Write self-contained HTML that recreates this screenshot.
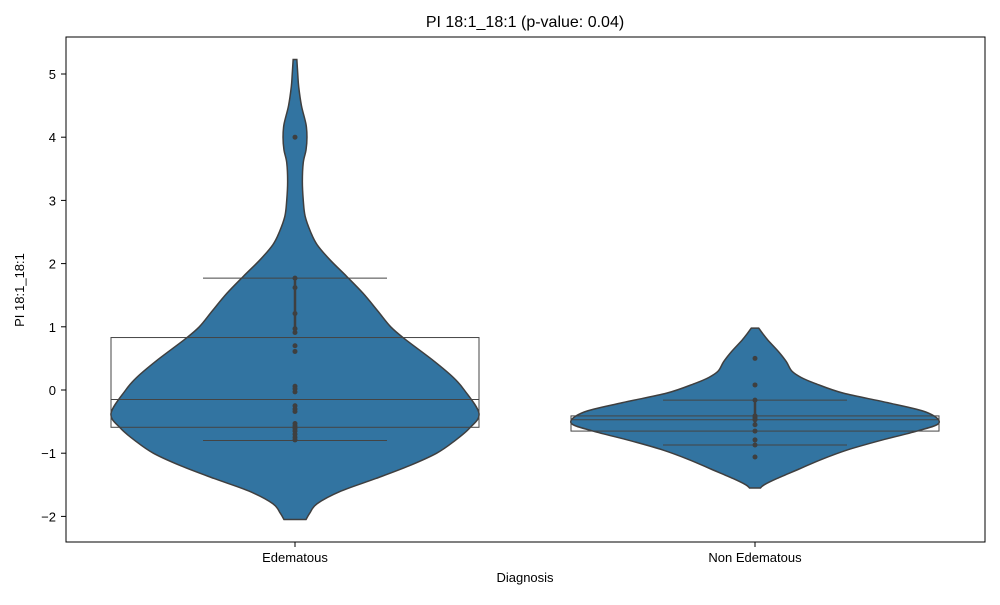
<!DOCTYPE html>
<html><head><meta charset="utf-8"><style>
body{margin:0;background:#fff;font-family:"Liberation Sans","DejaVu Sans",sans-serif}
svg text{font-family:"Liberation Sans","DejaVu Sans",sans-serif}
</style></head><body>
<svg id="c" width="1000" height="600">
<rect width="1000" height="600" fill="#fff"/>
<text x="525" y="27" text-anchor="middle" font-size="16">PI 18:1_18:1 (p-value: 0.04)</text>
<g id="plot"></g>
<rect x="66" y="37" width="919" height="505" fill="none" stroke="#000" stroke-width="1"/>
<text x="525" y="582" text-anchor="middle" font-size="13">Diagnosis</text>
<text transform="translate(24,290) rotate(-90)" text-anchor="middle" font-size="13">PI 18:1_18:1</text>
</svg>
<script>
const categories=["Edematous","Non Edematous"];
const yTicks=[-2,-1,0,1,2,3,4,5];
const pointsEd=[4.0,1.77,1.62,1.21,0.97,0.91,0.70,0.61,0.06,0.02,-0.03,-0.25,-0.30,-0.34,-0.53,-0.57,-0.61,-0.65,-0.70,-0.75,-0.79];
const pointsNon=[0.5,0.08,-0.16,-0.41,-0.44,-0.47,-0.55,-0.65,-0.79,-0.87,-1.06];
// violin outline: [value, relative density 0..1]
const densEd=[[5.23,0.01],[5.0,0.015],[4.8,0.02],[4.5,0.035],[4.2,0.06],[4.0,0.065],[3.8,0.06],[3.6,0.045],[3.3,0.04],[3.0,0.045],[2.75,0.055],[2.5,0.085],[2.3,0.12],[2.06,0.19],[1.8,0.28],[1.53,0.37],[1.25,0.45],[1.0,0.52],[0.8,0.6],[0.47,0.75],[0.2,0.86],[0,0.92],[-0.37,1.0],[-0.6,0.95],[-0.8,0.87],[-1.0,0.77],[-1.2,0.62],[-1.4,0.44],[-1.6,0.25],[-1.8,0.12],[-1.95,0.08],[-2.05,0.06]];
const densNon=[[0.98,0.02],[0.9,0.04],[0.79,0.07],[0.6,0.13],[0.45,0.17],[0.3,0.2],[0.2,0.25],[0.1,0.33],[-0.05,0.48],[-0.2,0.72],[-0.35,0.93],[-0.52,1.0],[-0.65,0.88],[-0.8,0.68],[-0.95,0.5],[-1.1,0.36],[-1.25,0.24],[-1.4,0.12],[-1.5,0.05],[-1.55,0.03]];
// box overlay stats: [whiskerLow, q1, median, q3, whiskerHigh]
const boxEd=[-0.8,-0.59,-0.15,0.83,1.77];
const boxNon=[-0.87,-0.65,-0.47,-0.41,-0.16];
const innerEd=[0.9,1.77];
const innerNon=[-0.55,-0.16];

const NS="http://www.w3.org/2000/svg";
const y=v=>390-v*63.2;
const xc=i=>295+i*460;
const maxHalf=184;
const plot=document.getElementById('plot');
const svg=document.getElementById('c');
function mk(tag,attrs,parent){const e=document.createElementNS(NS,tag);for(const k in attrs)e.setAttribute(k,attrs[k]);(parent||plot).appendChild(e);return e;}

yTicks.forEach(t=>{
  const l=mk('line',{x1:61,x2:66,y1:y(t),y2:y(t),stroke:'#000'},svg);
  
  
  const tx=mk('text',{x:56,y:y(t)+5,'text-anchor':'end','font-size':13},svg);
  tx.textContent=t<0?'\u2212'+(-t):String(t);
  
  
});
categories.forEach((c,i)=>{
  const l=mk('line',{x1:xc(i),x2:xc(i),y1:542,y2:547,stroke:'#000'},svg);
  
  
  const tx=mk('text',{x:xc(i),y:562,'text-anchor':'middle','font-size':13},svg);
  tx.textContent=c;
  
  
});

function smooth(pts){
  let d='M'+pts[0][0]+','+pts[0][1];
  for(let i=0;i<pts.length-1;i++){
    const p0=pts[Math.max(0,i-1)],p1=pts[i],p2=pts[i+1],p3=pts[Math.min(pts.length-1,i+2)];
    const c1=[p1[0]+(p2[0]-p0[0])/6,p1[1]+(p2[1]-p0[1])/6];
    const c2=[p2[0]-(p3[0]-p1[0])/6,p2[1]-(p3[1]-p1[1])/6];
    d+=' C'+c1[0]+','+c1[1]+' '+c2[0]+','+c2[1]+' '+p2[0]+','+p2[1];
  }
  return d;
}
function violin(i,dens,name){
  const cx=xc(i);
  const right=dens.map(d=>[cx+d[1]*maxHalf,y(d[0])]);
  const left=dens.slice().reverse().map(d=>[cx-d[1]*maxHalf,y(d[0])]);
  let d=smooth(right)+' L'+left[0][0]+','+left[0][1]+smooth(left).replace(/^M[^ ]+/,'')+' Z';
  const p=mk('path',{d:d,fill:'#3274a1',stroke:'#3f3f3f','stroke-width':1.5});
  
  
}
function box(i,b,name){
  const cx=xc(i);
  const r=mk('rect',{x:cx-184,y:y(b[3]),width:368,height:y(b[1])-y(b[3]),fill:'none',stroke:'#444','stroke-width':1});
  
  
  const m=mk('line',{x1:cx-184,x2:cx+184,y1:y(b[2]),y2:y(b[2]),stroke:'#444','stroke-width':1});
  
  
  [b[0],b[4]].forEach(w=>{
    const l=mk('line',{x1:cx-92,x2:cx+92,y1:y(w),y2:y(w),stroke:'#444','stroke-width':1});
    
    
  });
}
function inner(i,r,pts,name){
  const cx=xc(i);
  const l=mk('line',{x1:cx,x2:cx,y1:y(r[0]),y2:y(r[1]),stroke:'#3f3f3f','stroke-width':2.5});
  
  
  pts.forEach(v=>{
    const c=mk('circle',{cx:cx,cy:y(v),r:2.5,fill:'#3f3f3f'});
    
    
  });
}
violin(0,densEd,'violin-edematous');
violin(1,densNon,'violin-non-edematous');
box(0,boxEd,'edematous');
box(1,boxNon,'non-edematous');
inner(0,innerEd,pointsEd,'edematous');
inner(1,innerNon,pointsNon,'non-edematous');
</script>
</body></html>
